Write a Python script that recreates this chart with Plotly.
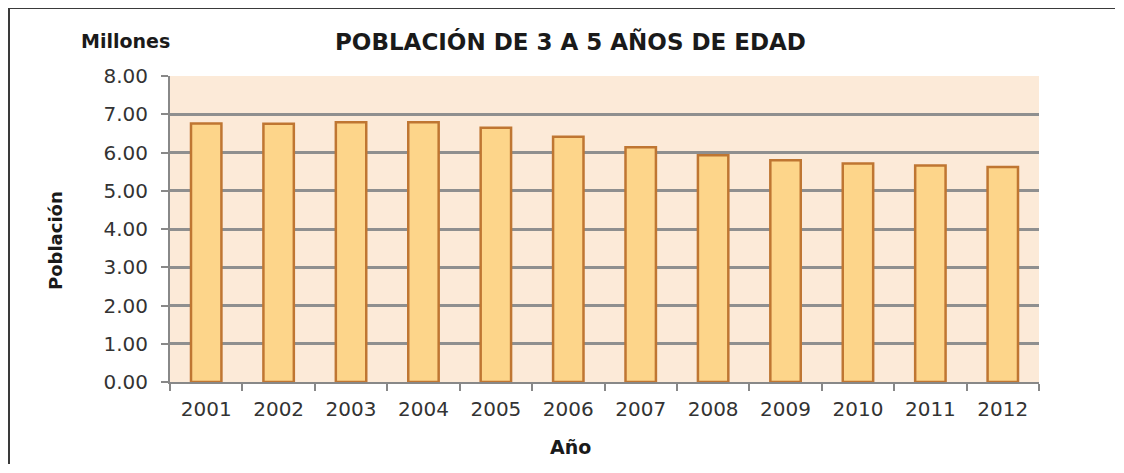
import plotly.graph_objects as go

years = ["2001", "2002", "2003", "2004", "2005", "2006",
         "2007", "2008", "2009", "2010", "2011", "2012"]
poblacion = [6.76, 6.75, 6.79, 6.79, 6.65, 6.41,
             6.14, 5.93, 5.80, 5.71, 5.66, 5.62]
y_ticks = [0, 1, 2, 3, 4, 5, 6, 7, 8]
y_ticklabels = ["0.00", "1.00", "2.00", "3.00", "4.00", "5.00", "6.00", "7.00", "8.00"]

# page has an 8px body margin; work in page coordinates and convert
OFF = 8
PAGE_W, PAGE_H = 1124, 473
W, H = PAGE_W - 2 * OFF, PAGE_H - 2 * OFF
plot_left, plot_right, plot_top, plot_bottom = 170, 1039, 76, 382
L = plot_left - OFF
R = W - (plot_right - OFF)
T = plot_top - OFF
B = H - (plot_bottom - OFF)
pw, ph = plot_right - plot_left, plot_bottom - plot_top

def px(x):
    return (x - plot_left) / pw

def py(y):
    return (plot_bottom - y) / ph

fig = go.Figure()
fig.add_trace(go.Bar(
    x=years, y=poblacion,
    marker=dict(color="#FDD58A", line=dict(color="#BF7632", width=2.5)),
))

font_main = "DejaVu Sans"
fig.update_layout(
    width=W, height=H,
    margin=dict(l=L, r=R, t=T, b=B),
    paper_bgcolor="white",
    plot_bgcolor="#FCEAD8",
    bargap=0.58,
    showlegend=False,
    font=dict(family=font_main, color="#333333", size=20),
)
fig.update_xaxes(
    type="category",
    showline=True, linecolor="#888888", linewidth=2,
    ticks="outside", ticklen=7, tickcolor="#888888", tickwidth=2,
    tickson="boundaries",
    ticklabelstandoff=8,
    showgrid=False,
    tickfont=dict(family=font_main, size=20, color="#333333"),
)
fig.update_yaxes(
    range=[0, 8],
    tickvals=y_ticks, ticktext=y_ticklabels,
    showline=True, linecolor="#888888", linewidth=2,
    ticks="outside", ticklen=7, tickcolor="#888888", tickwidth=2,
    ticklabelstandoff=9,
    showgrid=True, gridcolor="#8F8F8F", gridwidth=2.5,
    zeroline=False,
    tickfont=dict(family=font_main, size=20, color="#333333"),
)

annots = [
    dict(text="<b>POBLACIÓN DE 3 A 5 AÑOS DE EDAD</b>", x=px(570), y=py(42), size=23),
    dict(text="<b>Millones</b>", x=px(125), y=py(41), size=19),
    dict(text="<b>Año</b>", x=px(570), y=py(447), size=19),
    dict(text="<b>Población</b>", x=px(55), y=py(240), size=18, angle=-90),
]
for a in annots:
    fig.add_annotation(
        text=a["text"], x=a["x"], y=a["y"], xref="paper", yref="paper",
        xanchor="center", yanchor="middle", showarrow=False,
        textangle=a.get("angle", 0),
        font=dict(family=font_main, size=a["size"], color="#1A1A1A"),
    )

# outer frame (kept inside the figure area)
fig.add_shape(type="line", xref="paper", yref="paper",
              x0=px(9), x1=px(PAGE_W - OFF - 1), y0=py(8), y1=py(8),
              line=dict(color="#3A3A3A", width=2))
fig.add_shape(type="line", xref="paper", yref="paper",
              x0=px(9), x1=px(9), y0=py(8), y1=py(PAGE_H - OFF - 1),
              line=dict(color="#3A3A3A", width=2))

fig.write_html("out.html")
